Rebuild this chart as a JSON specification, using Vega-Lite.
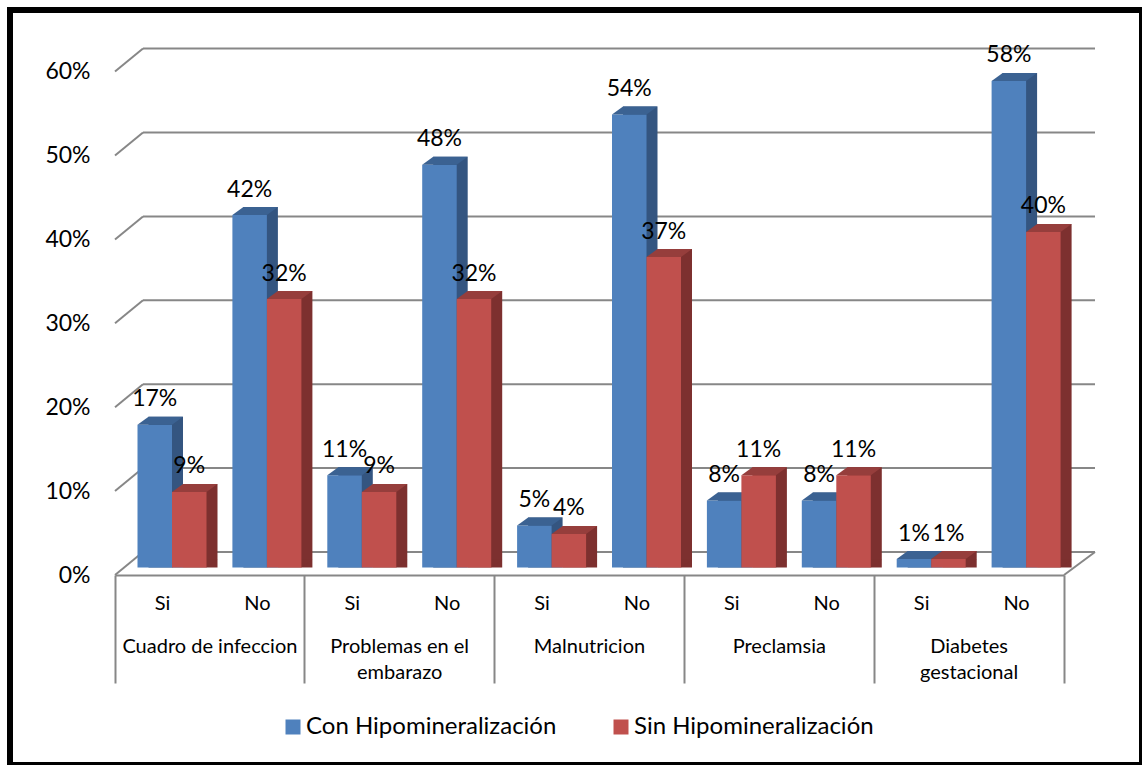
{
  "$schema": "https://vega.github.io/schema/vega-lite/v6.json",
  "width": 1132,
  "height": 755,
  "autosize": {"type": "none"},
  "padding": {"left": 10, "top": 10, "right": 0, "bottom": 0},
  "background": "white",
  "datasets": {
    "barras": [
      {"grupo": "Cuadro de infeccion", "respuesta": "Si", "clave": "Cuadro de infeccion|Si", "serie": "Con Hipomineralización", "valor": 0.17},
      {"grupo": "Cuadro de infeccion", "respuesta": "Si", "clave": "Cuadro de infeccion|Si", "serie": "Sin Hipomineralización", "valor": 0.09},
      {"grupo": "Cuadro de infeccion", "respuesta": "No", "clave": "Cuadro de infeccion|No", "serie": "Con Hipomineralización", "valor": 0.42},
      {"grupo": "Cuadro de infeccion", "respuesta": "No", "clave": "Cuadro de infeccion|No", "serie": "Sin Hipomineralización", "valor": 0.32},
      {"grupo": "Problemas en el embarazo", "respuesta": "Si", "clave": "Problemas en el embarazo|Si", "serie": "Con Hipomineralización", "valor": 0.11},
      {"grupo": "Problemas en el embarazo", "respuesta": "Si", "clave": "Problemas en el embarazo|Si", "serie": "Sin Hipomineralización", "valor": 0.09},
      {"grupo": "Problemas en el embarazo", "respuesta": "No", "clave": "Problemas en el embarazo|No", "serie": "Con Hipomineralización", "valor": 0.48},
      {"grupo": "Problemas en el embarazo", "respuesta": "No", "clave": "Problemas en el embarazo|No", "serie": "Sin Hipomineralización", "valor": 0.32},
      {"grupo": "Malnutricion", "respuesta": "Si", "clave": "Malnutricion|Si", "serie": "Con Hipomineralización", "valor": 0.05},
      {"grupo": "Malnutricion", "respuesta": "Si", "clave": "Malnutricion|Si", "serie": "Sin Hipomineralización", "valor": 0.04},
      {"grupo": "Malnutricion", "respuesta": "No", "clave": "Malnutricion|No", "serie": "Con Hipomineralización", "valor": 0.54},
      {"grupo": "Malnutricion", "respuesta": "No", "clave": "Malnutricion|No", "serie": "Sin Hipomineralización", "valor": 0.37},
      {"grupo": "Preclamsia", "respuesta": "Si", "clave": "Preclamsia|Si", "serie": "Con Hipomineralización", "valor": 0.08},
      {"grupo": "Preclamsia", "respuesta": "Si", "clave": "Preclamsia|Si", "serie": "Sin Hipomineralización", "valor": 0.11},
      {"grupo": "Preclamsia", "respuesta": "No", "clave": "Preclamsia|No", "serie": "Con Hipomineralización", "valor": 0.08},
      {"grupo": "Preclamsia", "respuesta": "No", "clave": "Preclamsia|No", "serie": "Sin Hipomineralización", "valor": 0.11},
      {"grupo": "Diabetes gestacional", "respuesta": "Si", "clave": "Diabetes gestacional|Si", "serie": "Con Hipomineralización", "valor": 0.01},
      {"grupo": "Diabetes gestacional", "respuesta": "Si", "clave": "Diabetes gestacional|Si", "serie": "Sin Hipomineralización", "valor": 0.01},
      {"grupo": "Diabetes gestacional", "respuesta": "No", "clave": "Diabetes gestacional|No", "serie": "Con Hipomineralización", "valor": 0.58},
      {"grupo": "Diabetes gestacional", "respuesta": "No", "clave": "Diabetes gestacional|No", "serie": "Sin Hipomineralización", "valor": 0.40}
    ],
    "lineas": [
      {"v": 0}, {"v": 0.1}, {"v": 0.2}, {"v": 0.3}, {"v": 0.4}, {"v": 0.5}, {"v": 0.6}
    ]
  },
  "layer": [
    {
      "data": {"name": "lineas"},
      "mark": {"type": "rule", "color": "#878787", "strokeWidth": 2, "yOffset": -15.5},
      "encoding": {
        "x": {"datum": 0, "type": "quantitative", "scale": {"domain": [0, 1], "range": [133, 1085]}, "axis": null},
        "x2": {"datum": 1},
        "y": {
          "field": "v", "type": "quantitative",
          "scale": {"domain": [0, 0.6], "range": [557.5, 54.1], "nice": false, "zero": true},
          "axis": {
            "orient": "left", "offset": -105, "values": [0, 0.1, 0.2, 0.3, 0.4, 0.5, 0.6], "format": ".0%",
            "title": null, "domain": false, "ticks": false, "grid": false,
            "labelFontSize": 23, "labelPadding": 25, "labelOffset": 7.5, "labelColor": "black"
          }
        }
      }
    },
    {
      "data": {"name": "lineas"},
      "mark": {"type": "point", "shape": "M0,0L-2,1.643", "size": 784, "filled": false, "color": "#878787", "strokeWidth": 2, "opacity": 1, "yOffset": -15.5},
      "encoding": {
        "x": {"datum": 0, "type": "quantitative", "scale": {"domain": [0, 1], "range": [133, 1085]}, "axis": null},
        "y": {"field": "v", "type": "quantitative"}
      }
    },
    {
      "data": {"name": "lineas"},
      "transform": [{"filter": "datum.v == 0"}],
      "mark": {"type": "point", "shape": "M0,0L-2,1.484", "size": 961, "filled": false, "color": "#878787", "strokeWidth": 2, "opacity": 1, "yOffset": -15.5},
      "encoding": {
        "x": {"datum": 1, "type": "quantitative", "scale": {"domain": [0, 1], "range": [133, 1085]}, "axis": null},
        "y": {"field": "v", "type": "quantitative"}
      }
    },
    {
      "data": {"name": "barras"},
      "encoding": {
        "x": {
          "field": "clave", "type": "nominal", "sort": null,
          "scale": {
            "type": "band",
            "domain": ["Cuadro de infeccion|Si", "Cuadro de infeccion|No", "Problemas en el embarazo|Si", "Problemas en el embarazo|No", "Malnutricion|Si", "Malnutricion|No", "Preclamsia|Si", "Preclamsia|No", "Diabetes gestacional|Si", "Diabetes gestacional|No"],
            "range": [105, 1054], "paddingInner": 0, "paddingOuter": 0
          },
          "axis": {
            "orient": "bottom", "offset": -190, "title": null, "ticks": false, "grid": false,
            "domain": true, "domainColor": "#878787", "domainWidth": 2,
            "labelExpr": "split(datum.label, '|')[1]", "labelAngle": 0,
            "labelFontSize": 20, "labelPadding": 18, "labelColor": "black"
          }
        }
      },
      "layer": [
        {
          "transform": [{"filter": "datum.serie == 'Con Hipomineralización'"}],
          "mark": {"type": "bar", "width": 34.5, "xOffset": 3.3, "yOffset": -8, "y2Offset": -8, "color": "#345580"},
          "encoding": {"y": {"field": "valor", "type": "quantitative", "stack": null}}
        },
        {
          "transform": [{"filter": "datum.serie == 'Con Hipomineralización'"}],
          "mark": {"type": "point", "shape": "M1,0L1.638,-0.464L1,-0.464Z", "size": 1190, "filled": true, "color": "#345580", "strokeWidth": 0, "opacity": 1, "xOffset": -7.7},
          "encoding": {"y": {"datum": 0, "type": "quantitative"}}
        },
        {
          "transform": [{"filter": "datum.serie == 'Con Hipomineralización'"}],
          "mark": {"type": "bar", "width": 34.5, "xOffset": -7.7},
          "encoding": {
            "y": {"field": "valor", "type": "quantitative", "stack": null},
            "color": {
              "field": "serie", "type": "nominal",
              "scale": {"domain": ["Con Hipomineralización", "Sin Hipomineralización"], "range": ["#4f81bd", "#c0504d"]},
              "legend": {
                "orient": "none", "legendX": 271, "legendY": 705, "direction": "horizontal", "title": null,
                "symbolType": "square", "symbolSize": 225, "symbolStrokeWidth": 0, "labelLimit": 500,
                "labelFontSize": 24, "labelOffset": 1, "columnPadding": 52, "padding": 0, "labelColor": "black"
              }
            }
          }
        },
        {
          "transform": [{"filter": "datum.serie == 'Con Hipomineralización'"}],
          "mark": {"type": "point", "shape": "M-1,0L1,0L1.638,-0.464L-0.362,-0.464Z", "size": 1190, "filled": true, "color": "#3b6292", "strokeWidth": 0, "opacity": 1, "xOffset": -7.7},
          "encoding": {"y": {"field": "valor", "type": "quantitative"}}
        },
        {
          "transform": [{"filter": "datum.serie == 'Sin Hipomineralización'"}],
          "mark": {"type": "bar", "width": 34.5, "xOffset": 37.8, "yOffset": -8, "y2Offset": -8, "color": "#7d302f"},
          "encoding": {"y": {"field": "valor", "type": "quantitative", "stack": null}}
        },
        {
          "transform": [{"filter": "datum.serie == 'Sin Hipomineralización'"}],
          "mark": {"type": "point", "shape": "M1,0L1.638,-0.464L1,-0.464Z", "size": 1190, "filled": true, "color": "#7d302f", "strokeWidth": 0, "opacity": 1, "xOffset": 26.8},
          "encoding": {"y": {"datum": 0, "type": "quantitative"}}
        },
        {
          "transform": [{"filter": "datum.serie == 'Sin Hipomineralización'"}],
          "mark": {"type": "bar", "width": 34.5, "xOffset": 26.8},
          "encoding": {
            "y": {"field": "valor", "type": "quantitative", "stack": null},
            "color": {
              "field": "serie", "type": "nominal",
              "scale": {"domain": ["Con Hipomineralización", "Sin Hipomineralización"], "range": ["#4f81bd", "#c0504d"]},
              "legend": {
                "orient": "none", "legendX": 271, "legendY": 705, "direction": "horizontal", "title": null,
                "symbolType": "square", "symbolSize": 225, "symbolStrokeWidth": 0, "labelLimit": 500,
                "labelFontSize": 24, "labelOffset": 1, "columnPadding": 52, "padding": 0, "labelColor": "black"
              }
            }
          }
        },
        {
          "transform": [{"filter": "datum.serie == 'Sin Hipomineralización'"}],
          "mark": {"type": "point", "shape": "M-1,0L1,0L1.638,-0.464L-0.362,-0.464Z", "size": 1190, "filled": true, "color": "#963e3c", "strokeWidth": 0, "opacity": 1, "xOffset": 26.8},
          "encoding": {"y": {"field": "valor", "type": "quantitative"}}
        },
        {
          "transform": [{"filter": "datum.serie == 'Con Hipomineralización'"}],
          "mark": {"type": "text", "baseline": "alphabetic", "align": "center", "fontSize": 23, "color": "black", "xOffset": -7.7, "yOffset": -18.5},
          "encoding": {
            "y": {"field": "valor", "type": "quantitative"},
            "text": {"field": "valor", "type": "quantitative", "format": ".0%"}
          }
        },
        {
          "transform": [{"filter": "datum.serie == 'Sin Hipomineralización'"}],
          "mark": {"type": "text", "baseline": "alphabetic", "align": "center", "fontSize": 23, "color": "black", "xOffset": 26.8, "yOffset": -18.5},
          "encoding": {
            "y": {"field": "valor", "type": "quantitative"},
            "text": {"field": "valor", "type": "quantitative", "format": ".0%"}
          }
        }
      ]
    },
    {
      "data": {"name": "barras"},
      "mark": {"type": "tick", "opacity": 0},
      "encoding": {
        "x": {
          "field": "grupo", "type": "nominal", "sort": null,
          "scale": {
            "type": "band",
            "domain": ["Cuadro de infeccion", "Problemas en el embarazo", "Malnutricion", "Preclamsia", "Diabetes gestacional"],
            "range": [105, 1054], "paddingInner": 0, "paddingOuter": 0
          },
          "axis": {
            "orient": "bottom", "offset": -190, "title": null, "domain": false, "grid": false,
            "ticks": true, "tickSize": 108, "tickWidth": 2, "tickColor": "#878787",
            "bandPosition": 1, "tickExtra": true,
            "labelExpr": "datum.label == 'Problemas en el embarazo' ? ['Problemas en el', 'embarazo'] : datum.label == 'Diabetes gestacional' ? ['Diabetes', 'gestacional'] : datum.label",
            "labelAngle": 0, "labelFontSize": 20, "labelLineHeight": 26, "labelBaseline": "top",
            "labelPadding": -47, "labelColor": "black"
          }
        }
      }
    }
  ],
  "resolve": {"scale": {"x": "independent"}, "axis": {"x": "independent"}},
  "config": {
    "font": "Lato",
    "view": {"stroke": "#000000", "strokeWidth": 6, "fill": "white"}
  }
}
